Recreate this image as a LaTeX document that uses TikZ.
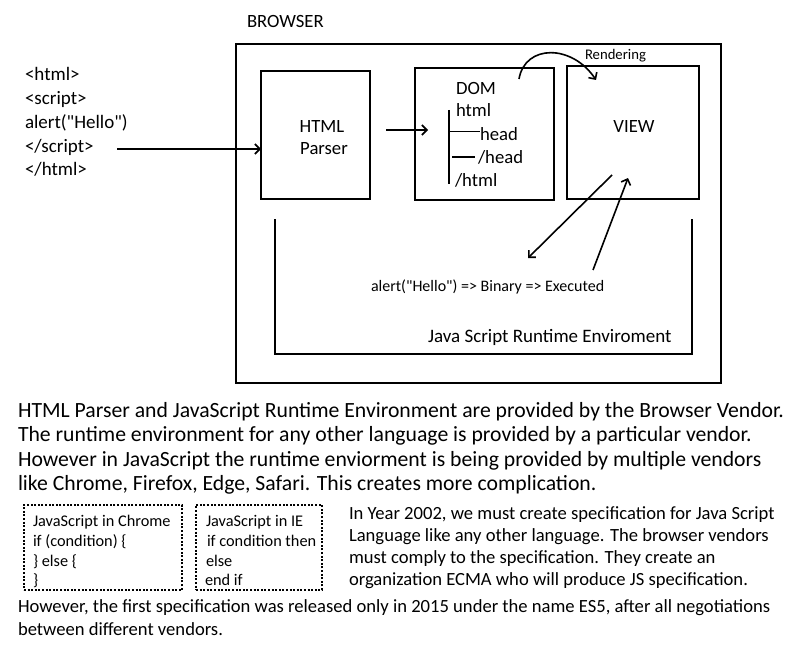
\documentclass[tikz,border=0pt]{standalone}
\usepackage{fontspec}
\setmainfont{Carlito}[Ligatures=TeXOff]
\usetikzlibrary{arrows.meta}
\begin{document}
\begin{tikzpicture}[x=1pt,y=-1pt,
  boxnode/.style={draw,line width=2pt,inner sep=0pt,outer sep=0pt},
  arr/.style={line width=1.6pt,-{Straight Barb[length=5pt,width=10pt,line width=1.6pt]}},
  txt/.style={anchor=base west,inner sep=0pt,outer sep=0pt},
  ctxt/.style={anchor=base,inner sep=0pt,outer sep=0pt},
  big/.style={font=\fontsize{18.7}{22}\selectfont},
  dotbox/.style={draw,line width=2pt,dash pattern=on 2pt off 1.6pt,inner sep=0pt}]
\useasboundingbox (0,0) rectangle (800,650);
% browser
\node[boxnode,minimum width=485pt,minimum height=339pt] (browser) at (478.5,213.5) {};
\node[txt,big] (browserlbl) at (247,28) {BROWSER};
% code
\begin{scope}[every node/.style={txt,font=\fontsize{19}{22}\selectfont}]
\node (c1) at (25,81) {<html>};
\node (c2) at (25,105) {<script>};
\node (c3) at (25,128.5) {alert("Hello")};
\node (c4) at (25,152) {</script>};
\node (c5) at (25,175) {</html>};
\end{scope}
% boxes
\node[boxnode,minimum width=109pt,minimum height=128pt] (parser) at (315.5,135) {};
\node[ctxt,big] (p1) at (322,132) {HTML};
\node[ctxt,big] (p2) at (324,154) {Parser};
\node[boxnode,minimum width=139pt,minimum height=132pt] (dom) at (484.5,134) {};
\node[boxnode,minimum width=132pt,minimum height=133pt] (view) at (633,132.5) {};
\node[ctxt,big] (viewlbl) at (634,132) {VIEW};
% DOM text
\begin{scope}[every node/.style={txt,big}]
\node (domlbl) at (456,95) {DOM};
\node (t1) at (456,117) {html};
\node (t2) at (480,140) {head};
\node (t3) at (478,163) {/head};
\node (t4) at (455,186) {/html};
\end{scope}
\coordinate (vt) at (449,110);
\coordinate (vb) at (449,184);
\draw[line width=1.8pt] (vt) -- (vb);
\draw[line width=1.8pt] (449,131.5) -- (t2.base west |- 0,131.5);
\draw[line width=1.8pt] (452,157) -- (475,157);
% arrows
\coordinate (codeend) at (117,149);
\draw[arr] (codeend) -- (codeend -| parser.west);
\coordinate (pd1) at (386,130);
\coordinate (pd2) at (428,130);
\draw[arr] (pd1) -- (pd2);
\coordinate (r1) at (519,79);
\coordinate (r2) at (596,80);
\draw[arr] (r1) .. controls (525,44) and (572,44) .. (r2);
\node[txt,font=\fontsize{14.7}{17}\selectfont] (rend) at (585,60) {Rendering};
\coordinate (v1) at (612,175);
\coordinate (a1) at (528,258);
\draw[arr] (v1) -- (a1);
\coordinate (a2) at (593,270);
\coordinate (v2) at (628,178);
\draw[arr] (a2) -- (v2);
\node[txt,font=\fontsize{16}{19}\selectfont] (alertlbl) at (371,291) {alert("Hello") => Binary => Executed};
% runtime U
\coordinate (u1) at (275,219);
\coordinate (u2) at (275,354);
\coordinate (u3) at (692,354);
\coordinate (u4) at (692,219);
\draw[line width=2pt] (u1) -- (u2) -- (u3) -- (u4);
\node[txt,font=\fontsize{19}{22}\selectfont] (rtlbl) at (428,342) {Java Script Runtime Enviroment};
% paragraph
\begin{scope}[every node/.style={txt,font=\fontsize{21.7}{25}\selectfont}]
\node (m1) at (18,417) {HTML Parser and JavaScript Runtime Environment are provided by the Browser Vendor.};
\node (m2) at (18,441.5) {The runtime environment for any other language is provided by a particular vendor.};
\node (m3) at (18,466) {However in JavaScript the runtime enviorment is being provided by multiple vendors};
\node (m4) at (18,490.5) {like Chrome, Firefox, Edge, Safari. This creates more complication.};
\end{scope}
% dotted boxes
\node[dotbox,minimum width=158pt,minimum height=85pt] (chrome) at (103,547.5) {};
\node[dotbox,minimum width=126pt,minimum height=85pt] (ie) at (259,547.5) {};
\begin{scope}[every node/.style={txt,font=\fontsize{16.3}{19}\selectfont}]
\node (b1) at (33,526) {JavaScript in Chrome};
\node (b2) at (33,546) {if (condition) \{};
\node (b3) at (33,566) {\} else \{};
\node (b4) at (33,585.5) {\}};
\node (e1) at (206,526) {JavaScript in IE};
\node (e2) at (207,546) {if condition then};
\node (e3) at (206,566) {else};
\node (e4) at (205,585.5) {end if};
\end{scope}
\begin{scope}[every node/.style={txt,font=\fontsize{18.6}{22}\selectfont}]
\node (s1) at (349,519) {In Year 2002, we must create specification for Java Script};
\node (s2) at (349,541.5) {Language like any other language. The browser vendors};
\node (s3) at (349,563.5) {must comply to the specification. They create an};
\node (s4) at (349,585.5) {organization ECMA who will produce JS specification.};
\node (l1) at (18,612.5) {However, the first specification was released only in 2015 under the name ES5, after all negotiations};
\node (l2) at (18,635.5) {between different vendors.};
\end{scope}
\end{tikzpicture}
\end{document}
